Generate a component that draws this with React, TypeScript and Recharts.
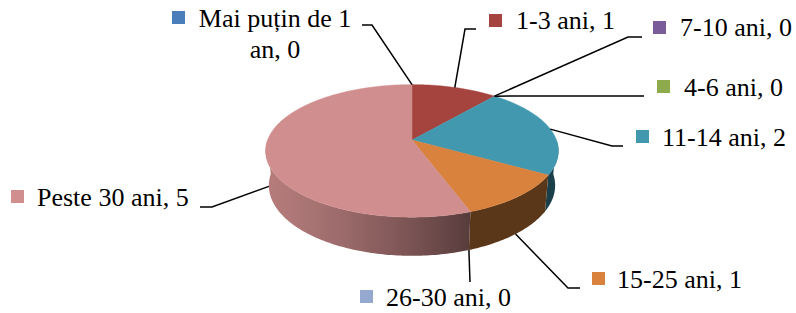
import React from "react";
import { PieChart, Pie, Cell } from "recharts";

const categories = [
  "Mai puțin de 1 an",
  "1-3 ani",
  "4-6 ani",
  "7-10 ani",
  "11-14 ani",
  "15-25 ani",
  "26-30 ani",
  "Peste 30 ani",
];
const values = [0, 1, 0, 0, 2, 1, 0, 5];
const colors = ["#4A7EBB", "#A5443F", "#8DAA4C", "#7A5C9A", "#4299AF", "#D8823E", "#95A9D0", "#D08E8E"];

const data = categories.map((name, i) => ({ name, value: values[i] }));

// label placement (Excel "best fit" look), px
const labelLayout = [
  { bend: [372, 25], end: [362, 25], box: [172, 11], textX: 275, anchor: "middle", baseline: 27, wrap: 14 },
  { bend: [465, 29], end: [476, 29], box: [489, 14], textX: 516, anchor: "start", baseline: 29 },
  { bend: [644, 96], end: [644, 96], box: [657, 80], textX: 684, anchor: "start", baseline: 96 },
  { bend: [628, 37], end: [642, 37], box: [653, 21], textX: 680, anchor: "start", baseline: 36 },
  { bend: [612, 146], end: [623, 146], box: [636, 130], textX: 662, anchor: "start", baseline: 146 },
  { bend: [568, 288], end: [580, 288], box: [592, 272], textX: 617, anchor: "start", baseline: 288 },
  { bend: [470, 282], end: [470, 282], box: [360, 290], textX: 386, anchor: "start", baseline: 306 },
  { bend: [212, 207], end: [200, 207], box: [11, 190], textX: 37, anchor: "start", baseline: 206 },
];

// simple perspective camera for the 3D look
const TILT_S = 0.4465;
const TILT_C = 0.895;
const CAM_D = 5.45;
const F_SCALE = 7.87;
const DEPTH = 0.27;

function project(cx: number, cy: number, r: number, deg: number, h: number) {
  const a = (deg * Math.PI) / 180;
  const X = Math.cos(a);
  const Z = -Math.sin(a);
  const yc = h * TILT_C - Z * TILT_S;
  const zc = h * TILT_S + Z * TILT_C;
  const d = CAM_D - zc;
  const f = r * F_SCALE;
  return [cx + (f * X) / d, cy - (f * yc) / d];
}

function shade(hex: string, k: number) {
  const n = parseInt(hex.slice(1), 16);
  const c = [(n >> 16) & 255, (n >> 8) & 255, n & 255].map((v) => Math.round(v * k));
  return `rgb(${c[0]},${c[1]},${c[2]})`;
}

function wallFactor(deg: number) {
  const X = Math.cos((deg * Math.PI) / 180);
  const t = Math.min(1, Math.max(0, (X + 1) / 1.342));
  return 0.88 - 0.46 * Math.pow(t, 1.5);
}

function Slice(props: any) {
  const { cx, cy, outerRadius, startAngle, endAngle, fill } = props;
  if (startAngle === endAngle) return <g />;
  const lo = Math.min(startAngle, endAngle);
  const hi = Math.max(startAngle, endAngle);
  const wlo = Math.max(lo, -180);
  const whi = Math.min(hi, 0);
  let wall = null;
  if (whi > wlo) {
    const id = `wall-${Math.round(lo * 10)}`;
    const n = Math.max(2, Math.ceil(whi - wlo));
    const topPts = [];
    const botPts = [];
    for (let i = 0; i <= n; i++) {
      const a = wlo + ((whi - wlo) * i) / n;
      topPts.push(project(cx, cy, outerRadius, a, 0));
      botPts.push(project(cx, cy, outerRadius, a, -DEPTH));
    }
    const xs = topPts.map((p) => p[0]).concat(botPts.map((p) => p[0]));
    const xmin = Math.min(...xs);
    const xmax = Math.max(...xs);
    const stops = [];
    for (let i = 0; i <= n; i += 2) {
      const a = wlo + ((whi - wlo) * i) / n;
      const off = xmax > xmin ? (topPts[i][0] - xmin) / (xmax - xmin) : 0;
      stops.push(<stop key={i} offset={Math.min(1, Math.max(0, off))} stopColor={shade(fill, wallFactor(a))} />);
    }
    let d = "";
    topPts.forEach((p, i) => (d += `${i ? "L" : "M"}${p[0]},${p[1]}`));
    for (let i = botPts.length - 1; i >= 0; i--) d += `L${botPts[i][0]},${botPts[i][1]}`;
    d += "Z";
    wall = (
      <g>
        <defs>
          <linearGradient id={id} gradientUnits="userSpaceOnUse" x1={xmin} y1={0} x2={xmax} y2={0}>
            {stops}
          </linearGradient>
        </defs>
        <path d={d} fill={`url(#${id})`} />
      </g>
    );
  }
  let top = `M${cx},${cy}`;
  const steps = Math.max(2, Math.ceil(hi - lo));
  for (let i = 0; i <= steps; i++) {
    const p = project(cx, cy, outerRadius, lo + ((hi - lo) * i) / steps, 0);
    top += `L${p[0]},${p[1]}`;
  }
  top += "Z";
  return (
    <g>
      {wall}
      <path d={top} fill={fill} stroke={fill} strokeWidth={0.5} />
    </g>
  );
}

function SliceLabel(props: any) {
  const { cx, cy, outerRadius, midAngle, index } = props;
  const lay = labelLayout[index];
  const front = -Math.sin((midAngle * Math.PI) / 180) > 0.1;
  const start = project(cx, cy, outerRadius, midAngle, front ? -DEPTH : 0);
  const text = `${categories[index]}, ${values[index]}`;
  let lines = [text];
  if (lay.wrap) {
    const cut = text.lastIndexOf(" ", lay.wrap);
    lines = [text.slice(0, cut), text.slice(cut + 1)];
  }
  return (
    <g>
      <polyline
        points={`${start[0]},${start[1]} ${lay.bend[0]},${lay.bend[1]} ${lay.end[0]},${lay.end[1]}`}
        fill="none"
        stroke="#000"
        strokeWidth={1.5}
      />
      <rect x={lay.box[0]} y={lay.box[1]} width={13} height={13} fill={colors[index]} />
      {lines.map((ln, i) => (
        <text
          key={i}
          x={lay.textX}
          y={lay.baseline + i * 31}
          textAnchor={lay.anchor}
          fontFamily='"Liberation Serif", "Times New Roman", serif'
          fontSize={26}
          fill="#000"
        >
          {ln}
        </text>
      ))}
    </g>
  );
}

export default function App() {
  return (
    <div style={{ position: "absolute", left: 0, top: 0, background: "#fff" }}>
      <PieChart width={796} height={313} margin={{ top: 0, right: 0, bottom: 0, left: 0 }}>
        <Pie
          data={data}
          dataKey="value"
          nameKey="name"
          cx={412}
          cy={140}
          outerRadius={100}
          startAngle={90}
          endAngle={-270}
          stroke="none"
          isAnimationActive={false}
          shape={Slice}
          activeShape={Slice}
          inactiveShape={Slice}
          label={SliceLabel}
          labelLine={false}
        >
          {data.map((d, i) => (
            <Cell key={d.name} fill={colors[i]} />
          ))}
        </Pie>
      </PieChart>
    </div>
  );
}
